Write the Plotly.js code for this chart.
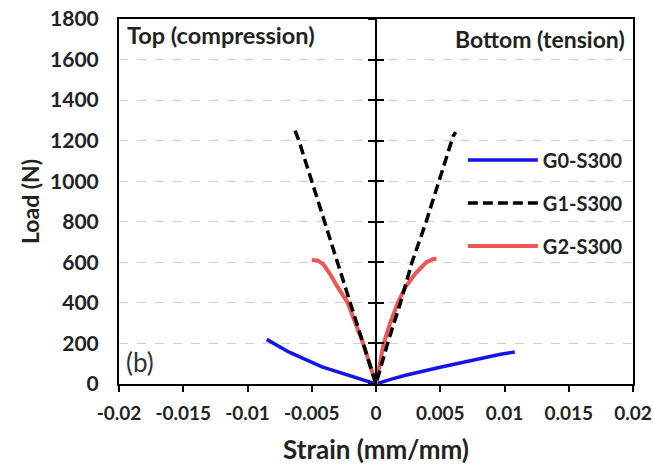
<!DOCTYPE html>
<html>
<head>
<meta charset="utf-8">
<script src="https://cdn.plot.ly/plotly-3.0.1.min.js"></script>
<style>html,body{margin:0;padding:0;background:#fff;}#chart{width:653px;height:469px;}</style>
</head>
<body>
<div id="chart"></div>
<script>
// Strain (mm/mm) and Load (N): compression tip -> origin -> tension tip
var g0Strain = [-0.0085, -0.0068, -0.0042, -0.0022, -0.0010, 0, 0.0012, 0.0023, 0.0049, 0.0080, 0.0097, 0.0108];
var g0Load   = [220, 158, 84, 46, 22, 0, 24, 43, 81, 126, 147, 158];

var g1Strain = [-0.0063, -0.0060, -0.0050, -0.0040, -0.0030, -0.0020, -0.0010, 0, 0.0009, 0.0019, 0.0028, 0.0039, 0.0049, 0.0059, 0.0060, 0.0062];
var g1Load   = [1250, 1200, 1000, 800, 600, 400, 200, 0, 200, 400, 600, 800, 1000, 1200, 1222, 1242];

var g2Strain = [-0.0050, -0.0045, -0.0041, -0.0036, -0.0030, -0.0022, -0.0016, -0.0010, 0, 0.0006, 0.0011, 0.0017, 0.0023, 0.0031, 0.0039, 0.0044, 0.0047];
var g2Load   = [612, 608, 590, 545, 480, 400, 300, 200, 0, 200, 300, 400, 480, 547, 600, 615, 618];

var seriesNames = ['G0-S300', 'G1-S300', 'G2-S300'];
var xTicks = [-0.02, -0.015, -0.01, -0.005, 0, 0.005, 0.01, 0.015, 0.02];
var xTickText = ['-0.02', '-0.015', '-0.01', '-0.005', '0', '0.005', '0.01', '0.015', '0.02'];

var FONT = 'Lato, "Open Sans", sans-serif';
var TXT = '#222';

var traces = [
  {x: g0Strain, y: g0Load, name: seriesNames[0], mode: 'lines', legendrank: 1, legendgroup: 'a',
   line: {color: 'rgb(20,20,235)', width: 3.5}},
  {x: g2Strain, y: g2Load, name: seriesNames[2], mode: 'lines', legendrank: 3, legendgroup: 'c',
   line: {color: 'rgb(240,85,85)', width: 4}},
  {x: g1Strain, y: g1Load, name: seriesNames[1], mode: 'lines', legendrank: 2, legendgroup: 'b',
   line: {color: '#000', width: 3.5, dash: '10px,5px'}},
  // helper traces so the centre axes exist
  {x: [0], y: [0], yaxis: 'y2', mode: 'markers', marker: {opacity: 0}, showlegend: false, hoverinfo: 'skip'},
  {x: [0], y: [0], yaxis: 'y3', mode: 'markers', marker: {opacity: 0}, showlegend: false, hoverinfo: 'skip'}
];

var centreAxis = function (ticksDir) {
  return {
    overlaying: 'y', anchor: 'free', position: 0.5, side: 'left',
    range: [0, 1800], dtick: 200, tick0: 0,
    showline: true, linecolor: '#000', linewidth: 2,
    ticks: ticksDir, ticklen: 7, tickwidth: 2, tickcolor: '#000',
    showticklabels: false, showgrid: false, zeroline: false
  };
};

var layout = {
  width: 653, height: 469,
  margin: {l: 119, r: 20, t: 19, b: 85},
  paper_bgcolor: '#fff', plot_bgcolor: '#fff',
  font: {family: FONT, color: TXT},
  showlegend: true,
  legend: {
    x: 0.99, xanchor: 'right', y: 0.496, yanchor: 'middle',
    bgcolor: 'rgba(255,255,255,0)', borderwidth: 0,
    font: {family: FONT, size: 20, color: TXT, weight: 'bold'},
    itemwidth: 70, tracegroupgap: 14, traceorder: 'grouped'
  },
  xaxis: {
    range: [-0.02, 0.02], tickvals: xTicks, ticktext: xTickText,
    showline: true, mirror: true, linecolor: '#000', linewidth: 2,
    ticks: 'outside', ticklen: 6, tickwidth: 2, tickcolor: '#000',
    ticklabelstandoff: 5,
    showgrid: false, zeroline: false,
    tickfont: {family: FONT, size: 19, color: TXT, weight: 'bold'},
    title: {text: 'Strain (mm/mm)', standoff: 18, font: {family: FONT, size: 26, color: TXT, weight: 'bold'}}
  },
  yaxis: {
    range: [0, 1800], dtick: 200, tick0: 0,
    showline: true, mirror: true, linecolor: '#000', linewidth: 2,
    ticks: '', ticklabelstandoff: 14,
    showgrid: true, gridcolor: '#cfcfcf', griddash: 'dash', gridwidth: 1,
    zeroline: false,
    tickfont: {family: FONT, size: 21, color: TXT, weight: 'bold'},
    title: {text: 'Load (N)', standoff: 4, font: {family: FONT, size: 23, color: TXT, weight: 'bold'}}
  },
  yaxis2: centreAxis('outside'),
  yaxis3: centreAxis('inside'),
  annotations: [
    {xref: 'paper', yref: 'paper', x: 0.012, y: 1.0, xanchor: 'left', yanchor: 'top', showarrow: false,
     text: 'Top (compression)', font: {family: FONT, size: 23.5, color: TXT, weight: 'bold'}},
    {xref: 'paper', yref: 'paper', x: 0.988, y: 0.99, xanchor: 'right', yanchor: 'top', showarrow: false,
     text: 'Bottom (tension)', font: {family: FONT, size: 23, color: TXT, weight: 'bold'}},
    {xref: 'paper', yref: 'paper', x: 0.01, y: 0.012, xanchor: 'left', yanchor: 'bottom', showarrow: false,
     text: '(b)', font: {family: FONT, size: 26, color: '#333'}}
  ]
};

Plotly.newPlot('chart', traces, layout, {displayModeBar: false, staticPlot: true});
</script>
</body>
</html>
